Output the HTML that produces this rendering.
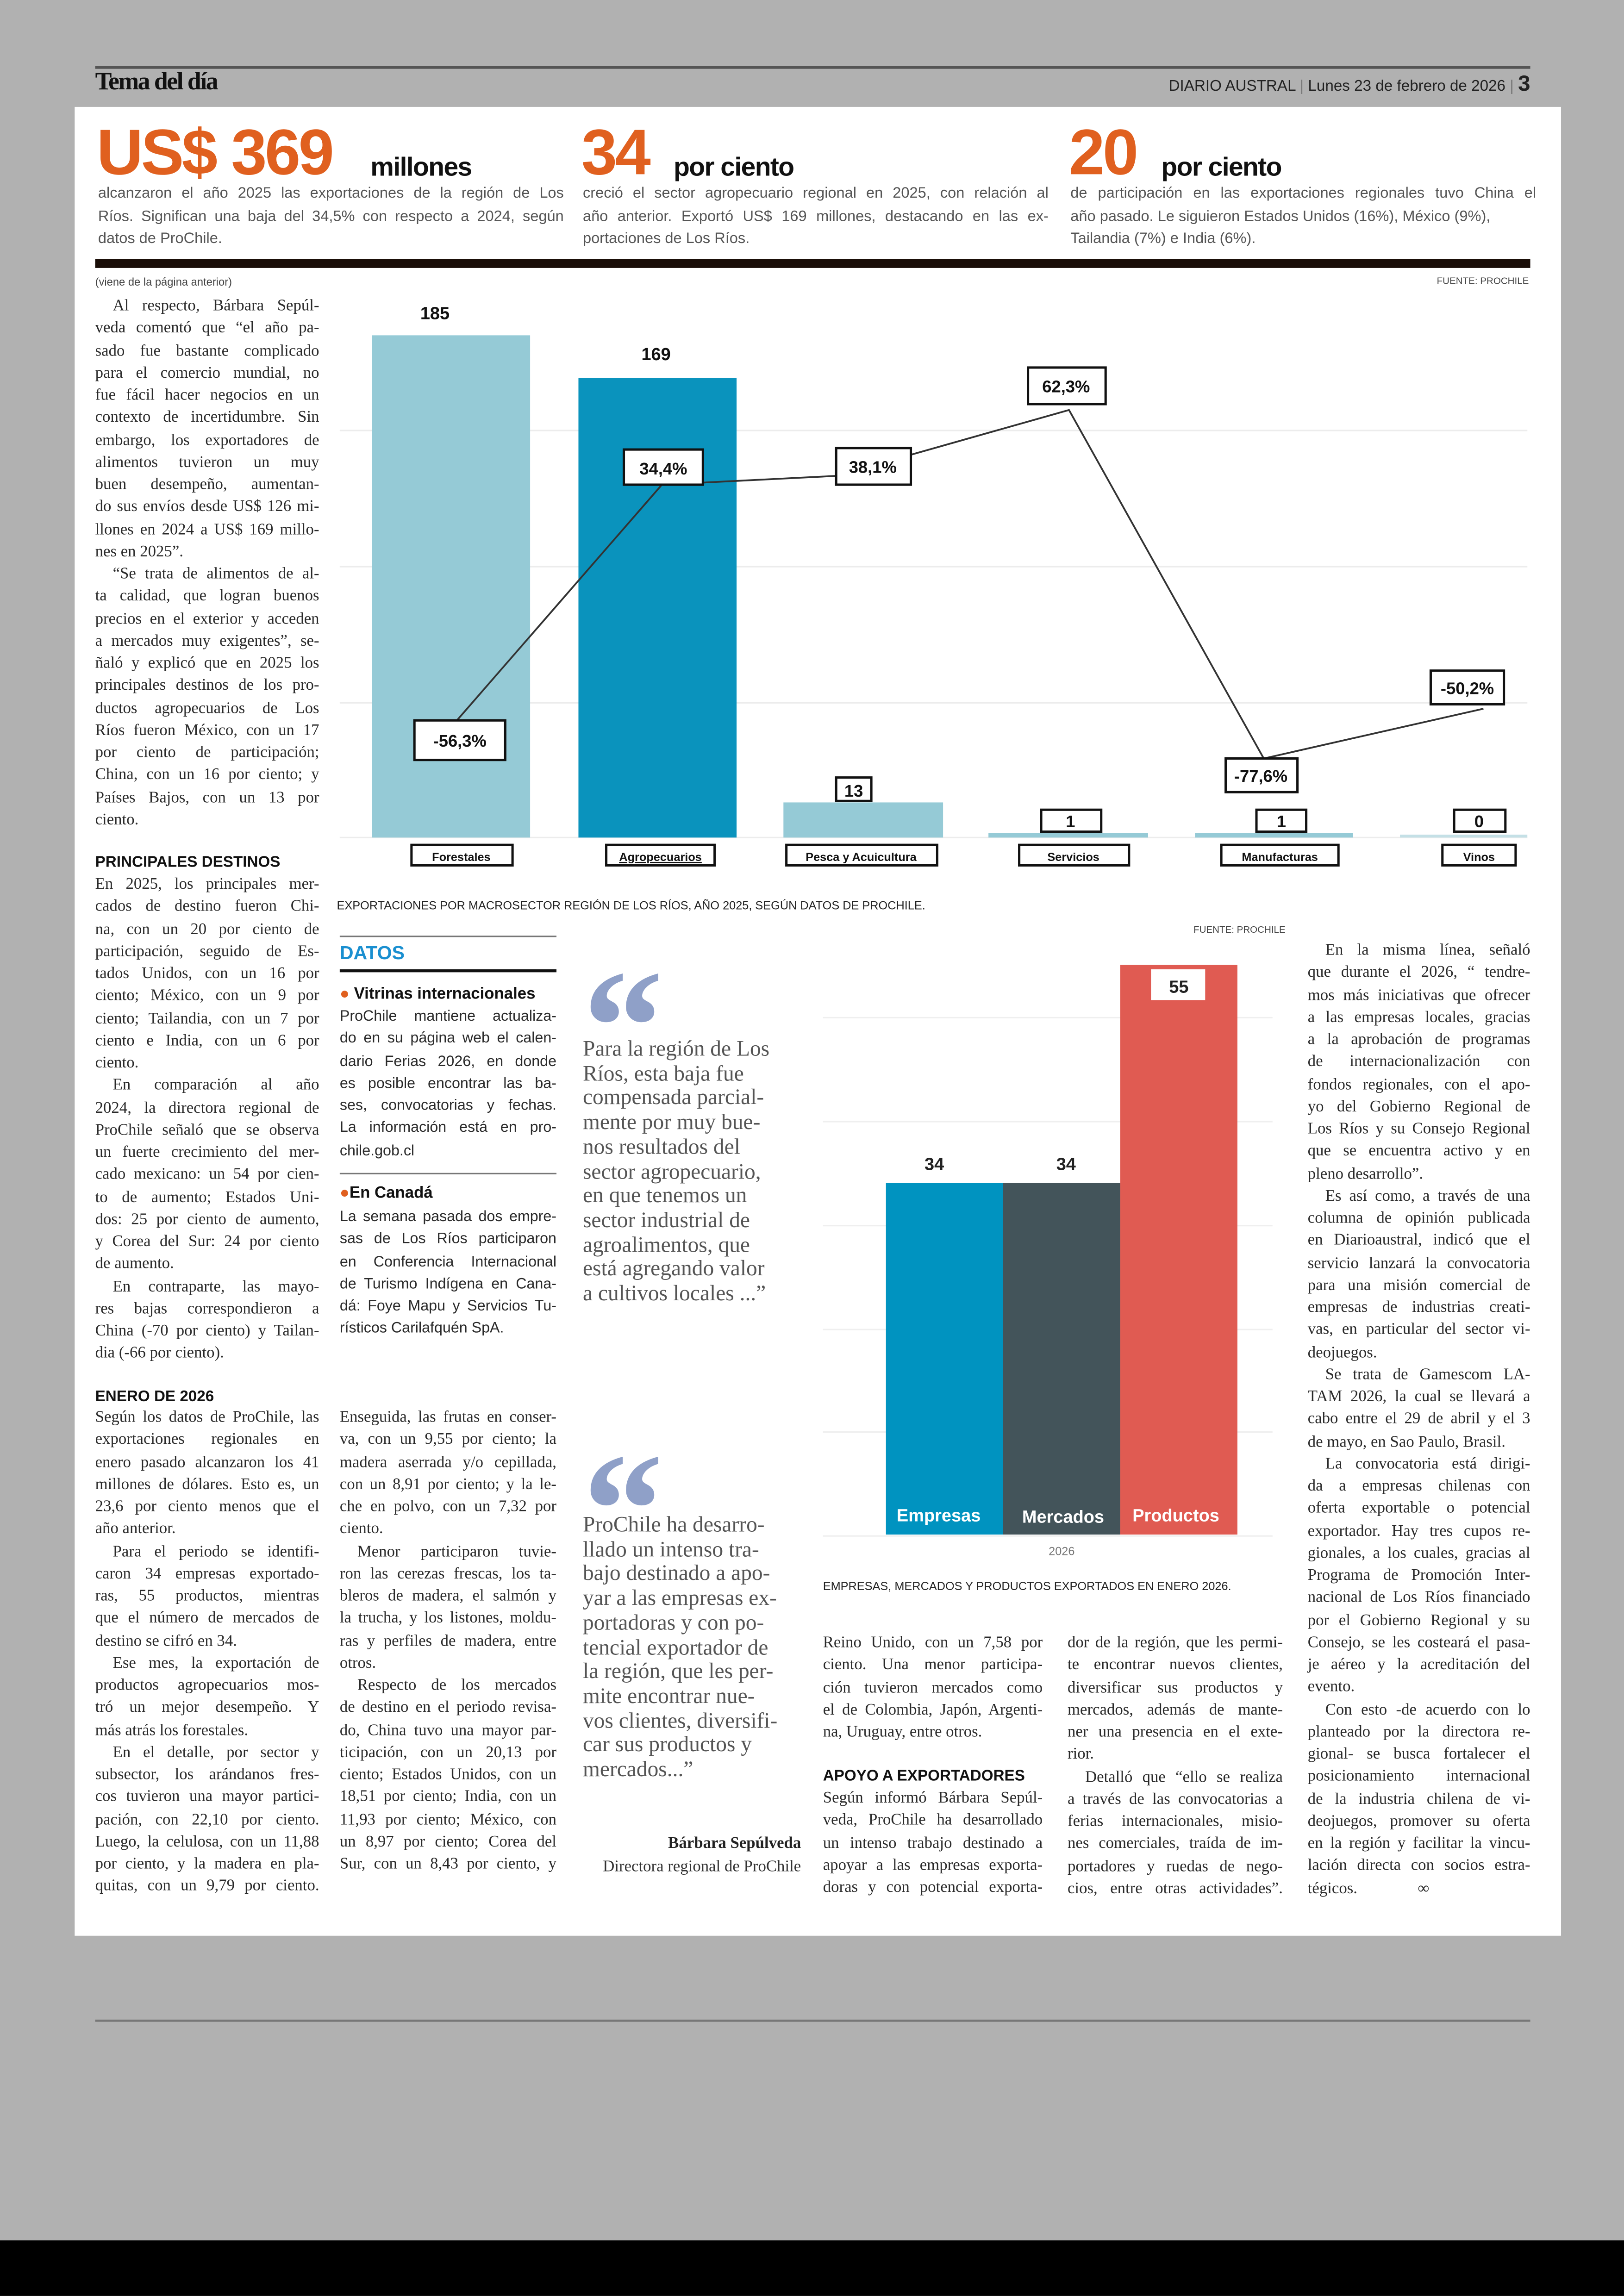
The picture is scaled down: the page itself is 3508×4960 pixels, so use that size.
<!DOCTYPE html>
<html><head><meta charset="utf-8">
<style>
html,body{margin:0;padding:0;}
body{width:3508px;height:4958px;overflow:hidden;background:#b1b1b1;}
#w{position:absolute;left:0;top:0;width:1109px;height:1568px;transform:scale(3.16321);transform-origin:0 0;background:#b1b1b1;font-family:"Liberation Serif",serif;color:#222;}
.a{position:absolute;}
.blk{position:absolute;font-family:"Liberation Serif",serif;font-size:11px;line-height:15.25px;color:#2a2a2a;}
.blk div{white-space:nowrap;text-align:justify;text-align-last:justify;height:15.25px;overflow:visible;}
.blk div.e{text-align-last:left;}
.blk div.i{text-indent:12px;}
.sans{font-family:"Liberation Sans",sans-serif;}
.h{font-family:"Liberation Sans",sans-serif;font-weight:bold;font-size:10.5px;color:#111;}
.st{position:absolute;font-family:"Liberation Sans",sans-serif;font-size:10.3px;line-height:15.5px;color:#555;width:318px;}
.st div{white-space:nowrap;text-align:justify;text-align-last:justify;}
.st div.e{text-align-last:left;}
.q{position:absolute;font-family:"Liberation Serif",serif;font-size:15px;line-height:16.7px;color:#555;width:150px;}
.q div{white-space:nowrap;}
</style></head><body>
<div id="w">
<!-- white page -->
<div class="a" style="left:51px;top:73px;width:1015px;height:1249px;background:#fff;"></div>
<!-- header -->
<div class="a" style="left:65px;top:45px;width:980px;height:2px;background:#555;"></div>
<div class="a" style="left:65px;top:46px;font-size:17px;font-weight:bold;letter-spacing:-0.8px;color:#111;">Tema del día</div>
<div class="a sans" style="right:64px;top:49px;font-size:10.5px;color:#222;white-space:nowrap;">DIARIO AUSTRAL <span style="color:#777">|</span> Lunes 23 de febrero de 2026 <span style="color:#777">|</span> <b style="font-size:15px;">3</b></div>

<!-- big stats -->
<div class="a sans" style="left:66px;top:80px;font-size:44px;font-weight:bold;color:#e0601f;letter-spacing:-1.5px;line-height:50px;">US$ 369</div>
<div class="a sans" style="left:253px;top:104px;font-size:18px;font-weight:bold;color:#111;letter-spacing:-0.5px;">millones</div>
<div class="a sans" style="left:397px;top:80px;font-size:44px;font-weight:bold;color:#e0601f;letter-spacing:-1.5px;line-height:50px;">34</div>
<div class="a sans" style="left:460px;top:104px;font-size:18px;font-weight:bold;color:#111;letter-spacing:-0.5px;">por ciento</div>
<div class="a sans" style="left:730px;top:80px;font-size:44px;font-weight:bold;color:#e0601f;letter-spacing:-1.5px;line-height:50px;">20</div>
<div class="a sans" style="left:793px;top:104px;font-size:18px;font-weight:bold;color:#111;letter-spacing:-0.5px;">por ciento</div>
<div class="st" style="left:67px;top:125px;"><div>alcanzaron el año 2025 las exportaciones de la región de Los</div><div>Ríos. Significan una baja del 34,5% con respecto a 2024, según</div><div class="e">datos de ProChile.</div></div>
<div class="st" style="left:398px;top:125px;"><div>creció el sector agropecuario regional en 2025, con relación al</div><div>año anterior. Exportó US$ 169 millones, destacando en las ex-</div><div class="e">portaciones de Los Ríos.</div></div>
<div class="st" style="left:731px;top:125px;"><div>de participación en las exportaciones regionales tuvo China el</div><div class="e">año pasado. Le siguieron Estados Unidos (16%), México (9%),</div><div class="e">Tailandia (7%) e India (6%).</div></div>
<div class="a" style="left:65px;top:177px;width:980px;height:6px;background:#1a0e08;"></div>
<div class="a sans" style="left:65px;top:188px;font-size:7.5px;color:#444;">(viene de la página anterior)</div>
<div class="a sans" style="right:65px;top:189px;font-size:6.5px;color:#444;">FUENTE: PROCHILE</div>

<svg class="a" style="left:0;top:0;" width="1109" height="1568" viewBox="0 0 1109 1568">
<g stroke="#ececec" stroke-width="1">
<line x1="232" y1="294" x2="1043" y2="294"/><line x1="232" y1="387" x2="1043" y2="387"/><line x1="232" y1="480" x2="1043" y2="480"/><line x1="232" y1="572" x2="1043" y2="572"/>
</g>
<rect x="254" y="229" width="108" height="343" fill="#95cad6"/>
<rect x="395" y="258" width="108" height="314" fill="#0a93bd"/>
<rect x="535" y="548" width="109" height="24" fill="#95cad6"/>
<rect x="675" y="569" width="109" height="3" fill="#95cad6"/>
<rect x="816" y="569" width="108" height="3" fill="#95cad6"/>
<rect x="956" y="570" width="87" height="2" fill="#c4e0e6"/>
<polyline points="312,492 452,331 571,325 730,280 863,518 1013,484" fill="none" stroke="#333" stroke-width="1.2"/>
<g font-family="Liberation Sans,sans-serif" font-weight="bold" font-size="12" text-anchor="middle" fill="#111">
<text x="297" y="218">185</text><text x="448" y="246">169</text>
</g>
<g fill="#fff" stroke="#111" stroke-width="1.6">
<rect x="283" y="492" width="62" height="27"/><rect x="426" y="307" width="54" height="24"/><rect x="571" y="306" width="51" height="25"/>
<rect x="702" y="251" width="53" height="25"/><rect x="837" y="518" width="49" height="23"/><rect x="977" y="458" width="50" height="23"/>
<rect x="571" y="531" width="24" height="16"/><rect x="711" y="553" width="41" height="15"/><rect x="858" y="553" width="34" height="15"/><rect x="993" y="553" width="35" height="15"/>
<rect x="281" y="577" width="69" height="14"/><rect x="414" y="577" width="74" height="14"/><rect x="537" y="577" width="103" height="14"/><rect x="696" y="577" width="75" height="14"/><rect x="834" y="577" width="80" height="14"/><rect x="985" y="577" width="50" height="14"/>
</g>
<g font-family="Liberation Sans,sans-serif" font-weight="bold" font-size="11.5" text-anchor="middle" fill="#111">
<text x="314" y="510">-56,3%</text><text x="453" y="324">34,4%</text><text x="596" y="323">38,1%</text><text x="728" y="268">62,3%</text><text x="861" y="534">-77,6%</text><text x="1002" y="474">-50,2%</text>
<text x="583" y="544">13</text><text x="731" y="565">1</text><text x="875" y="565">1</text><text x="1010" y="565">0</text>
</g>
<g font-family="Liberation Sans,sans-serif" font-weight="bold" font-size="8" text-anchor="middle" fill="#111">
<text x="315" y="588">Forestales</text><text x="451" y="588" text-decoration="underline">Agropecuarios</text><text x="588" y="588">Pesca y Acuicultura</text><text x="733" y="588">Servicios</text><text x="874" y="588">Manufacturas</text><text x="1010" y="588">Vinos</text>
</g>
<text x="230" y="621" font-family="Liberation Sans,sans-serif" font-size="8" fill="#222">EXPORTACIONES POR MACROSECTOR REGIÓN DE LOS RÍOS, AÑO 2025, SEGÚN DATOS DE PROCHILE.</text>
<text x="815" y="637" font-family="Liberation Sans,sans-serif" font-size="6.5" fill="#444">FUENTE: PROCHILE</text>

<!-- chart 2 -->
<g stroke="#efefef" stroke-width="1">
<line x1="562" y1="695" x2="869" y2="695"/><line x1="562" y1="766" x2="869" y2="766"/><line x1="562" y1="837" x2="869" y2="837"/><line x1="562" y1="908" x2="869" y2="908"/><line x1="562" y1="978" x2="869" y2="978"/><line x1="562" y1="1049" x2="869" y2="1049"/>
</g>
<rect x="605" y="808" width="80" height="240" fill="#0093c0"/>
<rect x="685" y="808" width="80" height="240" fill="#43545a"/>
<rect x="765" y="659" width="80" height="389" fill="#e05b52"/>
<rect x="786" y="662" width="37" height="21" fill="#fff"/>
<g font-family="Liberation Sans,sans-serif" font-weight="bold" font-size="12" text-anchor="middle" fill="#222">
<text x="638" y="799">34</text><text x="728" y="799">34</text><text x="805" y="678">55</text>
</g>
<g font-family="Liberation Sans,sans-serif" font-weight="bold" font-size="12" text-anchor="middle" fill="#fff">
<text x="641" y="1039">Empresas</text><text x="726" y="1040">Mercados</text><text x="803" y="1039">Productos</text>
</g>
<text x="725" y="1062" font-family="Liberation Sans,sans-serif" font-size="8" text-anchor="middle" fill="#777">2026</text>
<text x="562" y="1086" font-family="Liberation Sans,sans-serif" font-size="8" fill="#222">EMPRESAS, MERCADOS Y PRODUCTOS EXPORTADOS EN ENERO 2026.</text>

<!-- quote marks -->
<text x="398" y="738" font-family="Liberation Serif,serif" font-weight="bold" font-size="110" fill="#8fa0c8">“</text>
<text x="398" y="1068" font-family="Liberation Serif,serif" font-weight="bold" font-size="110" fill="#8fa0c8">“</text>
<!-- bottom -->
<line x1="65" y1="1380" x2="1045" y2="1380" stroke="#777" stroke-width="1.5"/>
<rect x="0" y="1530" width="1109" height="38" fill="#000"/>
</svg>

<!-- DATOS box -->
<div class="a" style="left:232px;top:639px;width:148px;height:1px;background:#777;"></div>
<div class="a sans" style="left:232px;top:643px;font-size:13px;font-weight:bold;color:#1a8fd0;">DATOS</div>
<div class="a" style="left:232px;top:662px;width:148px;height:1.5px;background:#111;"></div>
<div class="a sans" style="left:232px;top:673px;font-size:11px;font-weight:bold;color:#111;"><span style="color:#e0601f">●</span> Vitrinas internacionales</div>
<div class="blk sans" style="left:232px;top:687px;width:148px;font-size:10.2px;"><div>ProChile mantiene actualiza-</div><div>do en su página web el calen-</div><div>dario Ferias 2026, en donde</div><div>es posible encontrar las ba-</div><div>ses, convocatorias y fechas.</div><div>La información está en pro-</div><div class="e">chile.gob.cl</div></div>
<div class="a" style="left:232px;top:801px;width:148px;height:1px;background:#777;"></div>
<div class="a sans" style="left:232px;top:809px;font-size:11px;font-weight:bold;color:#111;"><span style="color:#e0601f">●</span>En Canadá</div>
<div class="blk sans" style="left:232px;top:824px;width:148px;font-size:10.2px;"><div>La semana pasada dos empre-</div><div>sas de Los Ríos participaron</div><div>en Conferencia Internacional</div><div>de Turismo Indígena en Cana-</div><div>dá: Foye Mapu y Servicios Tu-</div><div class="e">rísticos Carilafquén SpA.</div></div>

<!-- quotes text -->
<div class="q" style="left:398px;top:709px;"><div>Para la región de Los</div><div>Ríos, esta baja fue</div><div>compensada parcial-</div><div>mente por muy bue-</div><div>nos resultados del</div><div>sector agropecuario,</div><div>en que tenemos un</div><div>sector industrial de</div><div>agroalimentos, que</div><div>está agregando valor</div><div>a cultivos locales ...”</div></div>
<div class="q" style="left:398px;top:1034px;"><div>ProChile ha desarro-</div><div>llado un intenso tra-</div><div>bajo destinado a apo-</div><div>yar a las empresas ex-</div><div>portadoras y con po-</div><div>tencial exportador de</div><div>la región, que les per-</div><div>mite encontrar nue-</div><div>vos clientes, diversifi-</div><div>car sus productos y</div><div>mercados...”</div></div>
<div class="a" style="right:562px;top:1253px;font-size:11px;font-weight:bold;color:#222;white-space:nowrap;">Bárbara Sepúlveda</div>
<div class="a" style="right:562px;top:1269px;font-size:11px;color:#333;white-space:nowrap;">Directora regional de ProChile</div>

<!-- column 1 -->
<div class="blk" style="left:65px;top:202px;width:153px;">
<div class="i">Al respecto, Bárbara Sepúl-</div><div>veda comentó que “el año pa-</div><div>sado fue bastante complicado</div><div>para el comercio mundial, no</div><div>fue fácil hacer negocios en un</div><div>contexto de incertidumbre. Sin</div><div>embargo, los exportadores de</div><div>alimentos tuvieron un muy</div><div>buen desempeño, aumentan-</div><div>do sus envíos desde US$ 126 mi-</div><div>llones en 2024 a US$ 169 millo-</div><div class="e">nes en 2025”.</div>
<div class="i">“Se trata de alimentos de al-</div><div>ta calidad, que logran buenos</div><div>precios en el exterior y acceden</div><div>a mercados muy exigentes”, se-</div><div>ñaló y explicó que en 2025 los</div><div>principales destinos de los pro-</div><div>ductos agropecuarios de Los</div><div>Ríos fueron México, con un 17</div><div>por ciento de participación;</div><div>China, con un 16 por ciento; y</div><div>Países Bajos, con un 13 por</div><div class="e">ciento.</div>
</div>
<div class="a h" style="left:65px;top:583px;">PRINCIPALES DESTINOS</div>
<div class="blk" style="left:65px;top:597px;width:153px;">
<div>En 2025, los principales mer-</div><div>cados de destino fueron Chi-</div><div>na, con un 20 por ciento de</div><div>participación, seguido de Es-</div><div>tados Unidos, con un 16 por</div><div>ciento; México, con un 9 por</div><div>ciento; Tailandia, con un 7 por</div><div>ciento e India, con un 6 por</div><div class="e">ciento.</div>
<div class="i">En comparación al año</div><div>2024, la directora regional de</div><div>ProChile señaló que se observa</div><div>un fuerte crecimiento del mer-</div><div>cado mexicano: un 54 por cien-</div><div>to de aumento; Estados Uni-</div><div>dos: 25 por ciento de aumento,</div><div>y Corea del Sur: 24 por ciento</div><div class="e">de aumento.</div>
<div class="i">En contraparte, las mayo-</div><div>res bajas correspondieron a</div><div>China (-70 por ciento) y Tailan-</div><div class="e">dia (-66 por ciento).</div>
</div>
<div class="a h" style="left:65px;top:948px;">ENERO DE 2026</div>
<div class="blk" style="left:65px;top:961px;width:153px;">
<div>Según los datos de ProChile, las</div><div>exportaciones regionales en</div><div>enero pasado alcanzaron los 41</div><div>millones de dólares. Esto es, un</div><div>23,6 por ciento menos que el</div><div class="e">año anterior.</div>
<div class="i">Para el periodo se identifi-</div><div>caron 34 empresas exportado-</div><div>ras, 55 productos, mientras</div><div>que el número de mercados de</div><div class="e">destino se cifró en 34.</div>
<div class="i">Ese mes, la exportación de</div><div>productos agropecuarios mos-</div><div>tró un mejor desempeño. Y</div><div class="e">más atrás los forestales.</div>
<div class="i">En el detalle, por sector y</div><div>subsector, los arándanos fres-</div><div>cos tuvieron una mayor partici-</div><div>pación, con 22,10 por ciento.</div><div>Luego, la celulosa, con un 11,88</div><div>por ciento, y la madera en pla-</div><div>quitas, con un 9,79 por ciento.</div>
</div>

<!-- column 2 lower -->
<div class="blk" style="left:232px;top:961px;width:148px;">
<div>Enseguida, las frutas en conser-</div><div>va, con un 9,55 por ciento; la</div><div>madera aserrada y/o cepillada,</div><div>con un 8,91 por ciento; y la le-</div><div>che en polvo, con un 7,32 por</div><div class="e">ciento.</div>
<div class="i">Menor participaron tuvie-</div><div>ron las cerezas frescas, los ta-</div><div>bleros de madera, el salmón y</div><div>la trucha, y los listones, moldu-</div><div>ras y perfiles de madera, entre</div><div class="e">otros.</div>
<div class="i">Respecto de los mercados</div><div>de destino en el periodo revisa-</div><div>do, China tuvo una mayor par-</div><div>ticipación, con un 20,13 por</div><div>ciento; Estados Unidos, con un</div><div>18,51 por ciento; India, con un</div><div>11,93 por ciento; México, con</div><div>un 8,97 por ciento; Corea del</div><div>Sur, con un 8,43 por ciento, y</div>
</div>

<!-- column 4 -->
<div class="blk" style="left:562px;top:1115px;width:150px;">
<div>Reino Unido, con un 7,58 por</div><div>ciento. Una menor participa-</div><div>ción tuvieron mercados como</div><div>el de Colombia, Japón, Argenti-</div><div class="e">na, Uruguay, entre otros.</div>
</div>
<div class="a h" style="left:562px;top:1207px;">APOYO A EXPORTADORES</div>
<div class="blk" style="left:562px;top:1221px;width:150px;">
<div>Según informó Bárbara Sepúl-</div><div>veda, ProChile ha desarrollado</div><div>un intenso trabajo destinado a</div><div>apoyar a las empresas exporta-</div><div>doras y con potencial exporta-</div>
</div>

<!-- column 5 -->
<div class="blk" style="left:729px;top:1115px;width:147px;">
<div>dor de la región, que les permi-</div><div>te encontrar nuevos clientes,</div><div>diversificar sus productos y</div><div>mercados, además de mante-</div><div>ner una presencia en el exte-</div><div class="e">rior.</div>
<div class="i">Detalló que “ello se realiza</div><div>a través de las convocatorias a</div><div>ferias internacionales, misio-</div><div>nes comerciales, traída de im-</div><div>portadores y ruedas de nego-</div><div>cios, entre otras actividades”.</div>
</div>

<!-- column 6 -->
<div class="blk" style="left:893px;top:642px;width:152px;">
<div class="i">En la misma línea, señaló</div><div>que durante el 2026, “ tendre-</div><div>mos más iniciativas que ofrecer</div><div>a las empresas locales, gracias</div><div>a la aprobación de programas</div><div>de internacionalización con</div><div>fondos regionales, con el apo-</div><div>yo del Gobierno Regional de</div><div>Los Ríos y su Consejo Regional</div><div>que se encuentra activo y en</div><div class="e">pleno desarrollo”.</div>
<div class="i">Es así como, a través de una</div><div>columna de opinión publicada</div><div>en Diarioaustral, indicó que el</div><div>servicio lanzará la convocatoria</div><div>para una misión comercial de</div><div>empresas de industrias creati-</div><div>vas, en particular del sector vi-</div><div class="e">deojuegos.</div>
<div class="i">Se trata de Gamescom LA-</div><div>TAM 2026, la cual se llevará a</div><div>cabo entre el 29 de abril y el 3</div><div class="e">de mayo, en Sao Paulo, Brasil.</div>
<div class="i">La convocatoria está dirigi-</div><div>da a empresas chilenas con</div><div>oferta exportable o potencial</div><div>exportador. Hay tres cupos re-</div><div>gionales, a los cuales, gracias al</div><div>Programa de Promoción Inter-</div><div>nacional de Los Ríos financiado</div><div>por el Gobierno Regional y su</div><div>Consejo, se les costeará el pasa-</div><div>je aéreo y la acreditación del</div><div class="e">evento.</div>
<div class="i">Con esto -de acuerdo con lo</div><div>planteado por la directora re-</div><div>gional- se busca fortalecer el</div><div>posicionamiento internacional</div><div>de la industria chilena de vi-</div><div>deojuegos, promover su oferta</div><div>en la región y facilitar la vincu-</div><div>lación directa con socios estra-</div><div class="e">tégicos. &nbsp; &nbsp; &nbsp; &nbsp; &nbsp; &nbsp; &nbsp; ∞</div>
</div>
</div>
</body></html>
